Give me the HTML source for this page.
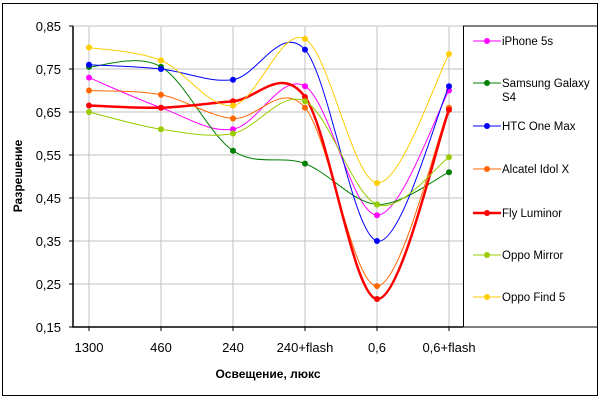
<!DOCTYPE html>
<html><head><meta charset="utf-8"><style>
body{margin:0;background:#fff}
svg{display:block;font-family:"Liberation Sans",Arial,sans-serif}
</style></head><body>
<svg width="600" height="400" viewBox="0 0 600 400">
<rect x="2.5" y="3.5" width="595" height="392" fill="#fff" stroke="#000" stroke-width="1"/>
<g id="grid"></g>
<g id="axes"></g>
<g id="series"></g>
<g id="legend"></g>
<text x="268" y="378" text-anchor="middle" font-size="12" font-weight="bold">Освещение, люкс</text>
<text transform="translate(22,176) rotate(-90)" text-anchor="middle" font-size="12" font-weight="bold">Разрешение</text>
</svg>
<script>
const categories=["1300","460","240","240+flash","0,6","0,6+flash"];
const yTicks=[0.15,0.25,0.35,0.45,0.55,0.65,0.75,0.85];
const yTickLabels=["0,15","0,25","0,35","0,45","0,55","0,65","0,75","0,85"];
const seriesNames=["iPhone 5s","Samsung Galaxy S4","HTC One Max","Alcatel Idol X","Fly Luminor","Oppo Mirror","Oppo Find 5"];
const iphone=[0.73,0.66,0.61,0.71,0.41,0.70];
const samsung=[0.755,0.755,0.56,0.53,0.435,0.51];
const htc=[0.76,0.75,0.725,0.795,0.35,0.71];
const alcatel=[0.70,0.69,0.635,0.66,0.245,0.66];
const fly=[0.665,0.66,0.675,0.685,0.215,0.655];
const oppoMirror=[0.65,0.61,0.60,0.675,0.435,0.545];
const oppoFind=[0.80,0.77,0.665,0.82,0.485,0.785];
const seriesData=[iphone,samsung,htc,alcatel,fly,oppoMirror,oppoFind];
const colors=["#ff00ff","#008000","#0000ff","#ff6600","#ff0000","#99cc00","#ffcc00"];
const widths=[1,1,1,1,2.5,1,1];

const NS="http://www.w3.org/2000/svg";
const L=73,R=463,T=26,B=327;
const xs=i=>89+i*72;
const ys=v=>B-(v-0.15)/(0.85-0.15)*(B-T);
function mk(tag,attrs,parent){const e=document.createElementNS(NS,tag);for(const k in attrs)e.setAttribute(k,attrs[k]);parent.appendChild(e);return e;}
const grid=document.getElementById('grid'),axes=document.getElementById('axes'),ser=document.getElementById('series'),leg=document.getElementById('legend');
yTicks.forEach((v,i)=>{
  const y=ys(v);
  const g=mk('line',{x1:L,x2:R,y1:y,y2:y,stroke:'#c0c0c0'},grid);
  
  
  mk('line',{x1:L-4,x2:L,y1:y,y2:y,stroke:'#000'},axes);
  const t=mk('text',{x:L-12,y:y+5,'text-anchor':'end','font-size':13},axes);
  t.textContent=yTickLabels[i];
  
  
});
categories.forEach((c,i)=>{
  const x=xs(i);
  const g=mk('line',{x1:x,x2:x,y1:T,y2:B,stroke:'#c0c0c0'},grid);
  
  
  mk('line',{x1:x,x2:x,y1:B,y2:B+4,stroke:'#000'},axes);
  const t=mk('text',{x:x,y:352,'text-anchor':'middle','font-size':13},axes);
  t.textContent=c;
  
  
});
const ax=mk('path',{d:`M${L},${T}V${B}H${R}`,fill:'none',stroke:'#000','stroke-width':1.5},axes);


function smooth(pts){
  let d=`M${pts[0][0]},${pts[0][1]}`;
  for(let i=0;i<pts.length-1;i++){
    const p0=pts[i-1]||pts[i],p1=pts[i],p2=pts[i+1],p3=pts[i+2]||p2;
    const c1=[p1[0]+(p2[0]-p0[0])/6,p1[1]+(p2[1]-p0[1])/6];
    const c2=[p2[0]-(p3[0]-p1[0])/6,p2[1]-(p3[1]-p1[1])/6];
    d+=`C${c1[0]},${c1[1]} ${c2[0]},${c2[1]} ${p2[0]},${p2[1]}`;
  }
  return d;
}
seriesData.forEach((arr,s)=>{
  const g=mk('g',{},ser);
  
  
  const pts=arr.map((v,i)=>[xs(i),ys(v)]);
  mk('path',{d:smooth(pts),fill:'none',stroke:colors[s],'stroke-width':widths[s]},g);
  pts.forEach(p=>{
    const m=mk('circle',{cx:p[0],cy:p[1],r:3,fill:colors[s]},g);
    
    
  });
});
const lb=mk('rect',{x:463.5,y:26,width:134,height:301,fill:'#fff',stroke:'#000'},leg);


const legY=[41,83,126,169,213,255,297];
seriesNames.forEach((n,s)=>{
  const g=mk('g',{},leg);
  
  
  const y=legY[s];
  mk('line',{x1:473,x2:501,y1:y,y2:y,stroke:colors[s],'stroke-width':widths[s]},g);
  mk('circle',{cx:487,cy:y,r:3,fill:colors[s]},g);
  if(n==="Samsung Galaxy S4"){
    const t=mk('text',{x:502,y:y+4,'font-size':11.5},g);t.textContent="Samsung Galaxy";
    const t2=mk('text',{x:502,y:y+18,'font-size':11.5},g);t2.textContent="S4";
  } else {
    const t=mk('text',{x:502,y:y+4,'font-size':11.5},g);t.textContent=n;
  }
});
</script>
</body></html>
